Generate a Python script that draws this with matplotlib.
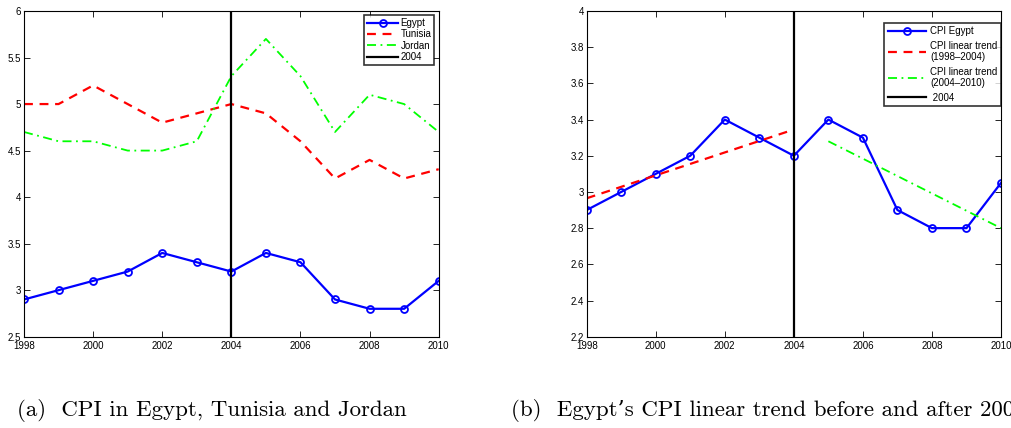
import matplotlib
matplotlib.use("Agg")
import matplotlib.pyplot as plt

years = [1998, 1999, 2000, 2001, 2002, 2003, 2004, 2005, 2006, 2007, 2008, 2009, 2010]
egypt_a = [2.9, 3.0, 3.1, 3.2, 3.4, 3.3, 3.2, 3.4, 3.3, 2.9, 2.8, 2.8, 3.1]
tunisia = [5.0, 5.0, 5.2, 5.0, 4.8, 4.9, 5.0, 4.9, 4.6, 4.2, 4.4, 4.2, 4.3]
jordan = [4.7, 4.6, 4.6, 4.5, 4.5, 4.6, 5.3, 5.7, 5.3, 4.7, 5.1, 5.0, 4.7]
egypt_b = [2.9, 3.0, 3.1, 3.2, 3.4, 3.3, 3.2, 3.4, 3.3, 2.9, 2.8, 2.8, 3.05]
trend1_x = [1998, 2004]
trend1_y = [2.965, 3.345]
trend2_x = [2005, 2010]
trend2_y = [3.28, 2.80]
vline_year = 2004

xticks = [1998, 2000, 2002, 2004, 2006, 2008, 2010]
yticks_a = [2.5, 3, 3.5, 4, 4.5, 5, 5.5, 6]
yticks_a_lbl = ["2.5", "3", "3.5", "4", "4.5", "5", "5.5", "6"]
yticks_b = [2.2, 2.4, 2.6, 2.8, 3.0, 3.2, 3.4, 3.6, 3.8, 4.0]
yticks_b_lbl = ["2.2", "2.4", "2.6", "2.8", "3", "3.2", "3.4", "3.6", "3.8", "4"]

cap_a = "(a)  CPI in Egypt, Tunisia and Jordan"
cap_b = "(b)  Egypt\u2019s CPI linear trend before and after 2004"

plt.rcParams['font.family'] = ['Liberation Sans', 'DejaVu Sans']

fig = plt.figure(figsize=(10.12, 4.28), dpi=100)
W, H = 1012, 428

def mkax(l, r, t, b):
    return fig.add_axes([l / W, 1 - b / H, (r - l) / W, (b - t) / H])

ax1 = mkax(24, 438.7, 11, 336.7)
ax2 = mkax(586.7, 1001, 11, 336.7)

for ax in (ax1, ax2):
    ax.tick_params(direction='in', top=True, right=True, labelsize=7,
                   length=4, width=0.6, pad=2, colors='black')
    ax.tick_params(axis='x', pad=3.2)
    for s in ax.spines.values():
        s.set_linewidth(0.8)
    ax.set_xlim(1998, 2010)
    ax.set_xticks(xticks)
    ax.set_xticklabels([str(x) for x in xticks])

mk = dict(marker='o', markersize=5, markerfacecolor='none', markeredgewidth=1.3)

ax1.plot(years, egypt_a, color='#0000ff', lw=1.6, label='Egypt', **mk)
ax1.plot(years, tunisia, color='#ff0000', lw=1.6, ls=(0, (4, 3)), label='Tunisia')
ax1.plot(years, jordan, color='#00ff00', lw=1.3, ls=(0, (5, 2.5, 1, 2.5)), label='Jordan')
ax1.axvline(vline_year, color='black', lw=1.6, label='2004')
ax1.set_ylim(2.5, 6)
ax1.set_yticks(yticks_a)
ax1.set_yticklabels(yticks_a_lbl)
leg1 = ax1.legend(loc='upper right', fontsize=7, frameon=True, fancybox=False,
                  edgecolor='black', borderpad=0.3, labelspacing=0.15,
                  handlelength=3.2, handletextpad=0.2, borderaxespad=0,
                  bbox_to_anchor=(1 - 4.5 / 414.7, 1 - 4 / 325.7))
leg1.get_frame().set_linewidth(1.2)

ax2.plot(years, egypt_b, color='#0000ff', lw=1.6, label='CPI Egypt', **mk)
ax2.plot(trend1_x, trend1_y, color='#ff0000', lw=1.6, ls=(0, (4, 3)),
         label='CPI linear trend\n(1998\u20132004)')
ax2.plot(trend2_x, trend2_y, color='#00ff00', lw=1.3, ls=(0, (5, 2.5, 1, 2.5)),
         label='CPI linear trend\n(2004\u20132010)')
ax2.axvline(vline_year, color='black', lw=1.6, label=' 2004')
ax2.set_ylim(2.2, 4)
ax2.set_yticks(yticks_b)
ax2.set_yticklabels(yticks_b_lbl)
leg2 = ax2.legend(loc='upper right', fontsize=7, frameon=True, fancybox=False,
                  edgecolor='black', borderpad=0.35, labelspacing=0.45,
                  handlelength=4.0, handletextpad=0.4, borderaxespad=0,
                  bbox_to_anchor=(1.0, 1 - 12 / 325.7))
leg2.get_frame().set_linewidth(1.2)

fig.text(17 / W, 1 - 410 / H, cap_a, fontsize=16.5, family=['cmr10', 'DejaVu Serif'],
         va='center', ha='left')
fig.text(511 / W, 1 - 410 / H, cap_b, fontsize=16.5, family=['cmr10', 'DejaVu Serif'],
         va='center', ha='left')

fig.savefig('out.png', dpi=100, facecolor='white')
